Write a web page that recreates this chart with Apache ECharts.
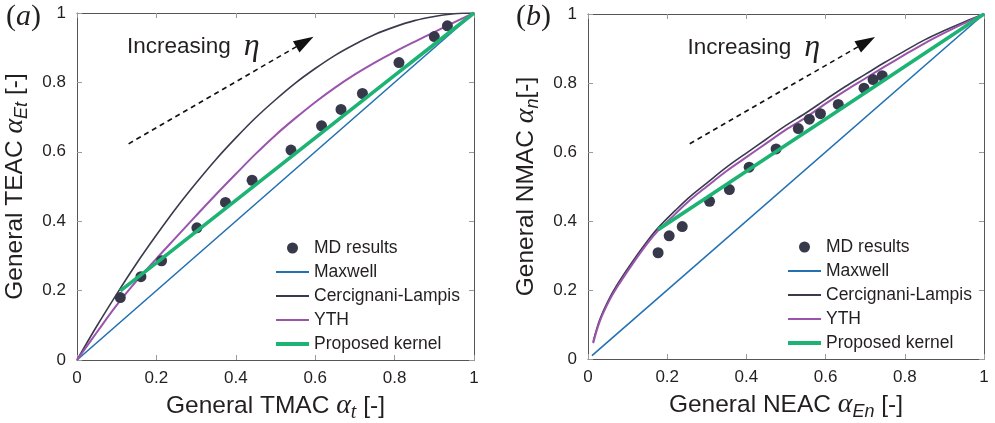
<!DOCTYPE html>
<html><head><meta charset="utf-8">
<script src="https://cdn.jsdelivr.net/npm/echarts@6/dist/echarts.min.js"></script>
<style>html,body{margin:0;padding:0;background:#fff}#c{width:995px;height:423px}</style>
</head><body><div id="c"></div>
<script>
// ---------- DATA ----------
const seriesNames = ['MD results', 'Maxwell', 'Cercignani-Lampis', 'YTH', 'Proposed kernel'];

// Panel (a): TMAC vs TEAC
const aMdX = [0.109, 0.161, 0.213, 0.302, 0.374, 0.441, 0.539, 0.616, 0.665, 0.719, 0.811, 0.900, 0.933];
const aMdY = [0.180, 0.240, 0.286, 0.381, 0.454, 0.518, 0.605, 0.675, 0.722, 0.768, 0.857, 0.932, 0.963];
const aMaxX = [0, 1];
const aMaxY = [0, 1];
const aClX = [0, 0.05, 0.1, 0.15, 0.2, 0.25, 0.3, 0.35, 0.4, 0.45, 0.5, 0.55, 0.6, 0.65, 0.7, 0.75, 0.8, 0.85, 0.9, 0.95, 1];
const aClY = [0, 0.098, 0.19, 0.278, 0.36, 0.438, 0.51, 0.578, 0.64, 0.698, 0.75, 0.798, 0.84, 0.878, 0.91, 0.938, 0.96, 0.978, 0.99, 0.998, 1];
const aYthX = [0, 0.05, 0.1, 0.15, 0.2, 0.25, 0.3, 0.35, 0.4, 0.45, 0.5, 0.55, 0.6, 0.65, 0.7, 0.75, 0.8, 0.85, 0.9, 0.95, 1];
const aYthY = [0, 0.08, 0.158, 0.228, 0.292, 0.354, 0.416, 0.477, 0.536, 0.594, 0.648, 0.697, 0.743, 0.785, 0.823, 0.857, 0.888, 0.917, 0.945, 0.973, 1];
const aPkX = [0.109, 0.2, 0.3, 0.4, 0.5, 0.6, 0.7, 0.8, 0.9, 1];
const aPkY = [0.199, 0.28, 0.37, 0.46, 0.55, 0.64, 0.73, 0.82, 0.91, 1];

// Panel (b): NEAC vs NMAC
const bMdX = [0.177, 0.205, 0.238, 0.307, 0.357, 0.407, 0.475, 0.531, 0.559, 0.587, 0.632, 0.697, 0.720, 0.743];
const bMdY = [0.308, 0.357, 0.384, 0.457, 0.491, 0.556, 0.609, 0.668, 0.695, 0.711, 0.738, 0.785, 0.810, 0.821];
const bMaxX = [0.01, 1];
const bMaxY = [0.01, 1];
const bClX = [0.013, 0.03, 0.055, 0.08, 0.114, 0.15, 0.177, 0.22, 0.257, 0.3, 0.35, 0.4, 0.45, 0.5, 0.55, 0.6, 0.65, 0.7, 0.75, 0.8, 0.85, 0.9, 0.95, 1];
const bClY = [0.05, 0.115, 0.178, 0.227, 0.285, 0.342, 0.38, 0.43, 0.47, 0.51, 0.556, 0.597, 0.637, 0.677, 0.713, 0.752, 0.79, 0.825, 0.86, 0.893, 0.925, 0.952, 0.977, 1];
const bYthX = [0.013, 0.03, 0.055, 0.08, 0.114, 0.15, 0.177, 0.22, 0.257, 0.3, 0.35, 0.4, 0.45, 0.5, 0.55, 0.6, 0.65, 0.7, 0.75, 0.8, 0.85, 0.9, 0.95, 1];
const bYthY = [0.046, 0.11, 0.172, 0.22, 0.278, 0.335, 0.372, 0.42, 0.46, 0.5, 0.545, 0.585, 0.625, 0.665, 0.70, 0.74, 0.778, 0.813, 0.848, 0.882, 0.915, 0.945, 0.973, 1];
const bPkX = [0.177, 0.3, 0.4, 0.5, 0.6, 0.7, 0.8, 0.9, 1];
const bPkY = [0.375, 0.468, 0.544, 0.62, 0.696, 0.772, 0.848, 0.924, 1];

// ---------- STYLE ----------
const C = {
  md: '#38384b', max: '#2271b3', cl: '#3a3a4d', yth: '#9b54ad', pk: '#1db374',
  text: '#231f20', axis: '#555', tick: '#9a9a9a'
};
const SANS = 'Liberation Sans, Arial, Helvetica, sans-serif';
const SERIF = 'Liberation Serif, Times New Roman, serif';
const zip = (xs, ys) => xs.map((x, i) => [x, ys[i]]);

const nameRich = {
  m: { fontFamily: SERIF, fontStyle: 'italic', fontSize: 28, color: C.text },
  ms: { fontFamily: SERIF, fontStyle: 'italic', fontSize: 20, color: C.text, padding: [14, 0, 0, 0] },
  s: { fontFamily: SANS, fontStyle: 'italic', fontSize: 18, color: C.text, padding: [14, 0, 0, 0] }
};

function valAxis(grid, pos, showLabel, name, nameGap) {
  const ax = {
    gridIndex: grid, type: 'value', min: 0, max: 1, interval: 0.2, position: pos,
    axisLine: { show: true, onZero: false, lineStyle: { color: C.axis, width: 1 } },
    axisTick: { show: true, inside: true, length: 5, lineStyle: { color: C.tick } },
    axisLabel: { show: showLabel, fontFamily: SANS, fontSize: 17, color: C.text, margin: pos === 'left' ? 11 : 10 },
    splitLine: { show: false }
  };
  if (name) {
    ax.name = name; ax.nameLocation = 'middle'; ax.nameGap = nameGap;
    ax.nameTextStyle = { fontFamily: SANS, fontSize: 24.5, color: C.text, rich: nameRich };
  }
  return ax;
}

function panelSeries(g, d) {
  const lineBase = (name, data, color, w) => ({
    name, type: 'line', xAxisIndex: g * 2, yAxisIndex: g * 2, data,
    symbol: 'none', smooth: 0.35, color, lineStyle: { color, width: w }, silent: true, z: 2
  });
  const maxw = lineBase('Maxwell', zip(d.maxX, d.maxY), C.max, 1.6);
  maxw.markLine = {
    silent: true, symbol: ['none', 'triangle'], symbolSize: [13, 20],
    label: { show: false },
    lineStyle: { color: '#111', type: [5, 4], width: 1.6 },
    itemStyle: { color: '#111' },
    data: [[{ coord: d.arrowFrom }, { coord: d.arrowTo }]]
  };
  maxw.markPoint = {
    silent: true, symbol: 'circle', symbolSize: 0,
    label: {
      show: true, position: 'right', distance: 0, color: C.text,
      formatter: '{t|Increasing}{e|η}',
      rich: {
        t: { fontFamily: SANS, fontSize: 22.5, color: C.text },
        e: { fontFamily: SERIF, fontStyle: 'italic', fontSize: 32, color: C.text, padding: [0, 0, 0, 13] }
      }
    },
    data: [{ coord: d.textAt }]
  };
  return [
    maxw,
    lineBase('Cercignani-Lampis', zip(d.clX, d.clY), C.cl, 1.6),
    lineBase('YTH', zip(d.ythX, d.ythY), C.yth, 2),
    {
      name: 'MD results', type: 'scatter', xAxisIndex: g * 2, yAxisIndex: g * 2,
      data: zip(d.mdX, d.mdY), symbol: 'circle', symbolSize: 11, color: C.md,
      itemStyle: { color: C.md, opacity: 1 }, silent: true, z: 3
    },
    Object.assign(lineBase('Proposed kernel', zip(d.pkX, d.pkY), C.pk, 3.6), { smooth: false, z: 4 })
  ];
}

function legendAt(left, top) {
  return {
    left, top, padding: 0, orient: 'vertical', itemWidth: 33, itemHeight: 11, itemGap: 4,
    selectedMode: false,
    data: seriesNames.map((n, i) => {
      if (i === 0) return { name: n, icon: 'circle', itemStyle: { opacity: 1 } };
      const item = { name: n, itemStyle: { opacity: 0 } };
      if (n === 'Proposed kernel') item.lineStyle = { width: 4 };
      return item;
    }),
    textStyle: { fontFamily: SANS, fontSize: 17.5, color: C.text, lineHeight: 20 }
  };
}

const labelRich = { i: { fontFamily: SERIF, fontStyle: 'italic', fontSize: 30 } };

const option = {
  animation: false,
  backgroundColor: '#fff',
  grid: [
    { left: 77, top: 13, width: 397, height: 347, outerBoundsMode: 'none', containLabel: false },
    { left: 588, top: 14, width: 396, height: 345, outerBoundsMode: 'none', containLabel: false }
  ],
  xAxis: [
    valAxis(0, 'bottom', true, 'General TMAC {m|α}{ms|t} [-]', 29),
    valAxis(0, 'top', false),
    valAxis(1, 'bottom', true, 'General NEAC {m|α}{s|En} [-]', 29),
    valAxis(1, 'top', false)
  ],
  yAxis: [
    valAxis(0, 'left', true, 'General TEAC {m|α}{s|Et} [-]', 46),
    valAxis(0, 'right', false),
    valAxis(1, 'left', true, 'General NMAC {m|α}{s|n}[-]', 46),
    valAxis(1, 'right', false)
  ],
  legend: [legendAt(274, 238), legendAt(786, 237)],
  graphic: [
    { type: 'text', left: 6, top: 2, style: { text: '({i|a})', font: '30px ' + SERIF, fill: C.text, rich: labelRich } },
    { type: 'text', left: 516, top: 2, style: { text: '({i|b})', font: '30px ' + SERIF, fill: C.text, rich: labelRich } }
  ],
  series: [].concat(
    panelSeries(0, {
      mdX: aMdX, mdY: aMdY, maxX: aMaxX, maxY: aMaxY, clX: aClX, clY: aClY,
      ythX: aYthX, ythY: aYthY, pkX: aPkX, pkY: aPkY,
      arrowFrom: [0.13, 0.623], arrowTo: [0.574, 0.917], textAt: [0.126, 0.903]
    }),
    panelSeries(1, {
      mdX: bMdX, mdY: bMdY, maxX: bMaxX, maxY: bMaxY, clX: bClX, clY: bClY,
      ythX: bYthX, ythY: bYthY, pkX: bPkX, pkY: bPkY,
      arrowFrom: [0.257, 0.624], arrowTo: [0.703, 0.919], textAt: [0.251, 0.903]
    })
  )
};

const chart = echarts.init(document.getElementById('c'), null, { renderer: 'canvas' });
chart.setOption(option);
</script>
</body></html>
